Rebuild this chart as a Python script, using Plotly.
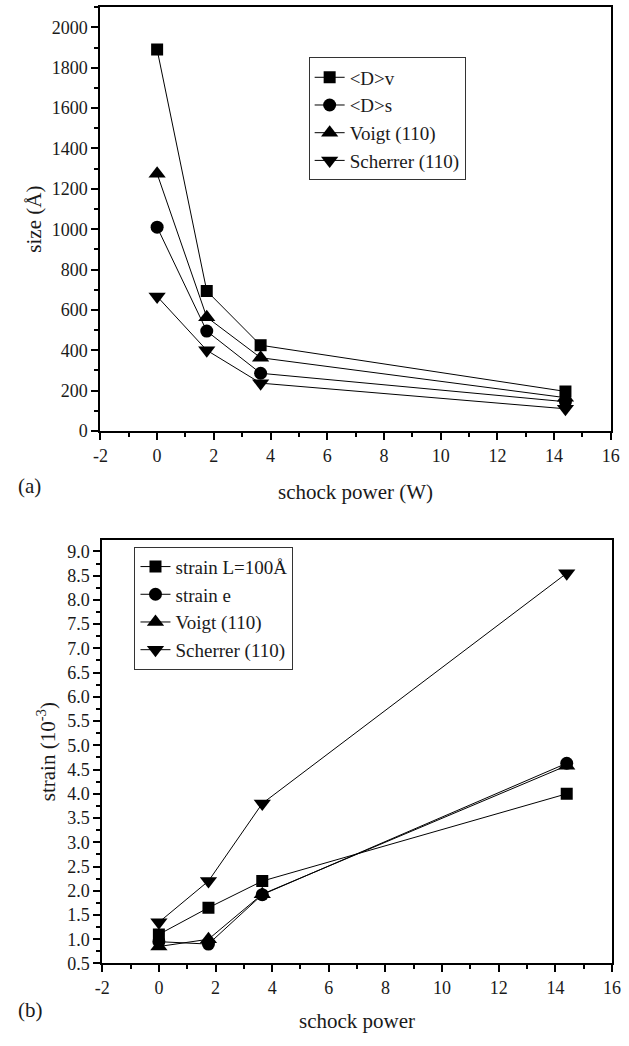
import plotly.graph_objects as go

# Shock power (W)
power = [0.0, 1.75, 3.65, 14.4]

# (a) crystallite size (Å)
size_dv = [1890, 694, 425, 196]
size_ds = [1010, 495, 286, 145]
size_voigt = [1275, 564, 363, 165]
size_scherrer = [667, 400, 237, 110]
size_names = ["&lt;D&gt;v", "&lt;D&gt;s", "Voigt (110)", "Scherrer (110)"]

# (b) strain (10^-3)
strain_L100 = [1.10, 1.65, 2.20, 4.00]
strain_e = [0.95, 0.90, 1.92, 4.63]
strain_voigt = [0.85, 1.00, 1.93, 4.58]
strain_scherrer = [1.35, 2.20, 3.80, 8.55]
strain_names = ["strain L=100Å", "strain e", "Voigt (110)", "Scherrer (110)"]

# x tick labels (plain hyphen for the negative value)
x_tickvals = [-2, 0, 2, 4, 6, 8, 10, 12, 14, 16]
x_ticktext = ["-2", "0", "2", "4", "6", "8", "10", "12", "14", "16"]

symbols = ["square", "circle", "triangle-up", "triangle-down"]
sizes = [12, 13, 15, 15]
FONT = "Liberation Serif, Times New Roman, serif"
INK = "#1a1a1a"

fig = go.Figure()

for ys, name, sym, ms in zip([size_dv, size_ds, size_voigt, size_scherrer],
                             size_names, symbols, sizes):
    fig.add_trace(go.Scatter(
        x=power, y=ys, name=name, mode="lines+markers",
        line=dict(color="black", width=1),
        marker=dict(symbol=sym, size=ms, color="black"),
        xaxis="x", yaxis="y", legend="legend",
    ))

for ys, name, sym, ms in zip([strain_L100, strain_e, strain_voigt, strain_scherrer],
                             strain_names, symbols, sizes):
    fig.add_trace(go.Scatter(
        x=power, y=ys, name=name, mode="lines+markers",
        line=dict(color="black", width=1),
        marker=dict(symbol=sym, size=ms, color="black"),
        xaxis="x2", yaxis="y2", legend="legend2",
    ))

axis_common = dict(
    showline=True, linecolor="black", linewidth=2, mirror=True,
    ticks="outside", ticklen=7, tickwidth=1.5, tickcolor="black",
    showgrid=False, zeroline=False,
    tickfont=dict(family=FONT, size=18, color=INK),
)

xticks = dict(tickmode="array", tickvals=x_tickvals, ticktext=x_ticktext,
              minor=dict(ticks="outside", ticklen=4, tickwidth=1.5,
                         tickcolor="black", tickmode="linear", tick0=-2,
                         dtick=1, showgrid=False))

title_font = dict(family=FONT, size=21, color=INK)
legend_font = dict(family=FONT, size=19, color=INK)

fig.update_layout(
    width=629, height=1046,
    margin=dict(l=0, r=0, t=0, b=0),
    paper_bgcolor="white", plot_bgcolor="white",
    font=dict(family=FONT, size=18, color=INK),
    xaxis=dict(domain=[0.151, 0.985], anchor="y", range=[-2, 16],
               **xticks, **axis_common),
    yaxis=dict(domain=[0.584, 0.993], anchor="x", range=[0, 2100],
               tickmode="linear", tick0=0, dtick=200,
               minor=dict(ticks="outside", ticklen=4, tickwidth=1.5,
                          tickcolor="black", dtick=100, showgrid=False),
               title=dict(text="size (Å)", font=title_font, standoff=4),
               **axis_common),
    xaxis2=dict(domain=[0.154, 0.987], anchor="y2", range=[-2, 16],
                **xticks, **axis_common),
    yaxis2=dict(domain=[0.070, 0.479], anchor="x2", range=[0.5, 9.24],
                tickmode="linear", tick0=0.5, dtick=0.5, tickformat=".1f",
                minor=dict(ticks="outside", ticklen=4, tickwidth=1.5,
                           tickcolor="black", dtick=0.25, showgrid=False),
                title=dict(text="strain (10<sup>-3</sup>)", font=title_font,
                           standoff=6),
                **axis_common),
    legend=dict(x=309 / 629, y=1 - 58 / 1046, xanchor="left", yanchor="top",
                bordercolor="#333", borderwidth=1, bgcolor="white",
                font=legend_font, tracegroupgap=0, itemsizing="trace"),
    legend2=dict(x=130 / 629, y=1 - 552 / 1046, xanchor="left", yanchor="top",
                 bordercolor="#333", borderwidth=1, bgcolor="white",
                 font=legend_font, tracegroupgap=0, itemsizing="trace"),
    showlegend=True,
)

fig.add_annotation(text="schock power (W)", x=0.568, y=1 - 497 / 1046,
                   xref="paper", yref="paper", showarrow=False,
                   xanchor="center", yanchor="middle", font=title_font)
fig.add_annotation(text="(a)", x=8 / 629, y=1 - 491 / 1046,
                   xref="paper", yref="paper", showarrow=False,
                   xanchor="left", yanchor="middle", font=title_font)
fig.add_annotation(text="schock power", x=0.57, y=1 - 1031 / 1046,
                   xref="paper", yref="paper", showarrow=False,
                   xanchor="center", yanchor="middle", font=title_font)
fig.add_annotation(text="(b)", x=8 / 629, y=1 - 1020 / 1046,
                   xref="paper", yref="paper", showarrow=False,
                   xanchor="left", yanchor="middle", font=title_font)

fig.write_html("out.html")
